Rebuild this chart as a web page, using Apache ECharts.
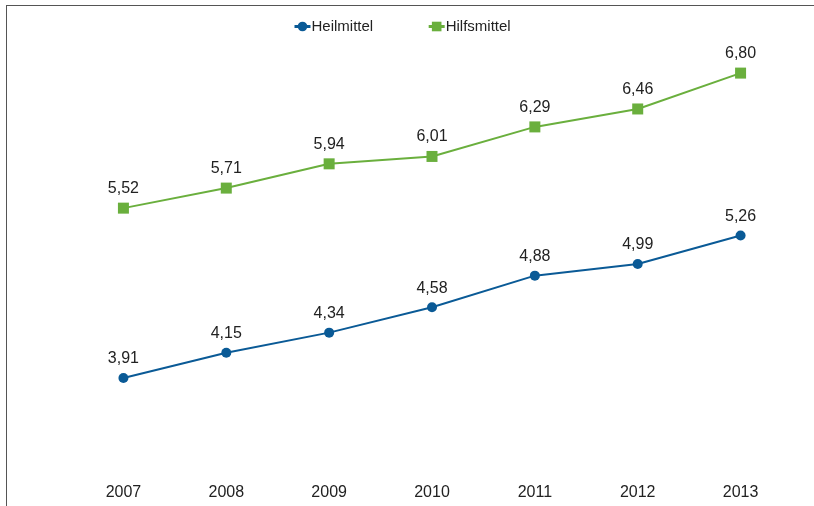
<!DOCTYPE html>
<html>
<head>
<meta charset="utf-8">
<script src="https://cdn.jsdelivr.net/npm/echarts@6/dist/echarts.min.js"></script>
<style>
  html, body { margin: 0; padding: 0; background: #fff; }
  #chart { width: 814px; height: 506px; }
</style>
</head>
<body>
<div id="chart"></div>
<script>
  // 数据
  const years = ['2007', '2008', '2009', '2010', '2011', '2012', '2013']
  const heilmittel = [3.91, 4.15, 4.34, 4.58, 4.88, 4.99, 5.26]
  const hilfsmittel = [5.52, 5.71, 5.94, 6.01, 6.29, 6.46, 6.80]

  const chart = echarts.init(document.getElementById('chart'))
  const fmt = p => p.value.toFixed(2).replace('.', ',')
  const font = 'Liberation Sans, Arial, sans-serif'

  chart.setOption({
    animation: false,
    textStyle: { fontFamily: font },
    // 外框 (上和左)
    graphic: [
      { type: 'line', shape: { x1: 6, y1: 5.5, x2: 814, y2: 5.5 }, style: { stroke: '#555', lineWidth: 1 } },
      { type: 'line', shape: { x1: 6.5, y1: 5, x2: 6.5, y2: 506 }, style: { stroke: '#555', lineWidth: 1 } }
    ],
    legend: {
      top: 14,
      left: 288,
      itemWidth: 16,
      itemHeight: 12,
      itemGap: 54,
      lineStyle: { width: 3 },
      textStyle: { fontSize: 15, color: '#222', fontFamily: font, padding: [0, 0, 0, -4] }
    },
    grid: { left: 72, right: 22, top: 52, bottom: 32 },
    xAxis: {
      type: 'category',
      data: years,
      axisLine: { show: false },
      axisTick: { show: false },
      axisLabel: { fontSize: 16, color: '#222', margin: 11 }
    },
    yAxis: {
      type: 'value',
      min: 3,
      max: 7,
      show: false
    },
    series: [
      {
        name: 'Heilmittel',
        type: 'line',
        data: heilmittel,
        symbol: 'circle',
        symbolSize: 10,
        lineStyle: { color: '#0A5A96', width: 2 },
        itemStyle: { color: '#0A5A96' },
        label: { show: true, position: 'top', distance: 6, fontSize: 16, color: '#222', formatter: fmt }
      },
      {
        name: 'Hilfsmittel',
        type: 'line',
        data: hilfsmittel,
        symbol: 'rect',
        symbolSize: 11,
        lineStyle: { color: '#6AAF3D', width: 2 },
        itemStyle: { color: '#6AAF3D' },
        label: { show: true, position: 'top', distance: 6, fontSize: 16, color: '#222', formatter: fmt }
      }
    ]
  })
</script>
</body>
</html>
